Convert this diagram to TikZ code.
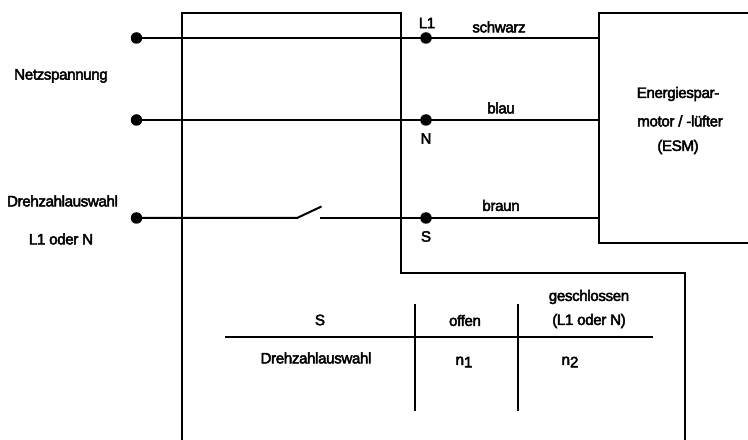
\documentclass[tikz,border=0pt]{standalone}
\usepackage{fontspec}
\setmainfont{Liberation Sans}[LetterSpace=-2.5]
\newcommand{\heavy}{\special{pdf:code q 2 Tr 0.45 w}}
\newcommand{\heavyoff}{\special{pdf:code Q}}
\begin{document}
\begin{tikzpicture}[x=1bp,y=-1bp,
  wire/.style={line width=2bp,black},
  frame/.style={line width=2bp,black},
  dot/.style={circle,fill=black,inner sep=0pt,minimum size=11.5bp},
  lbl/.style={inner sep=0pt,font=\fontsize{15.2}{16}\selectfont,align=center,text=black}]
\useasboundingbox (0,0) rectangle (748,440);
\draw[frame] (182,440) -- (182,13) -- (401,13) -- (401,273) -- (685,273) -- (685,440);
\draw[frame] (748,13) -- (599,13) -- (599,243) -- (748,243);
\coordinate (mL) at (599,38);
\coordinate (mN) at (599,120);
\coordinate (mS) at (599,218);
\coordinate (swA) at (297,218);
\coordinate (swB) at (321.5,206.5);
\coordinate (swC) at (320,218);
\node[dot] (a1) at (136.5,38) {};
\node[dot] (a2) at (136.5,120) {};
\node[dot] (a3) at (136.5,218) {};
\node[dot] (b1) at (426,38) {};
\node[dot] (b2) at (426,120) {};
\node[dot] (b3) at (426,218) {};
\draw[wire] (a1.center) -- (b1.center) -- (mL);
\draw[wire] (a2.center) -- (b2.center) -- (mN);
\draw[wire] (a3.center) -- (swA) -- (swB);
\draw[wire] (swC) -- (b3.center) -- (mS);
\node[lbl] (t1) at (61,76) {\heavy Netzspannung\heavyoff};
\node[lbl] (t2) at (62.5,201) {\heavy Drehzahlauswahl\heavyoff};
\node[lbl] (t3) at (61,239) {\heavy L1 oder N\heavyoff};
\node[lbl] (t4) at (427,23) {\heavy L1\heavyoff};
\node[lbl] (t5) at (426,138.5) {\heavy N\heavyoff};
\node[lbl] (t6) at (426,236.5) {\heavy S\heavyoff};
\node[lbl] (t7) at (499,27) {\heavy schwarz\heavyoff};
\node[lbl] (t8) at (501,108) {\heavy blau\heavyoff};
\node[lbl] (t9) at (501,205.5) {\heavy braun\heavyoff};
\node[lbl] (e1) at (678,94) {\heavy Energiespar-\heavyoff};
\node[lbl] (e2) at (680,121) {\heavy motor / -lüfter\heavyoff};
\node[lbl] (e3) at (678,147) {\heavy (ESM)\heavyoff};
\draw[wire] (225,337) -- (653,337);
\draw[wire] (415,304) -- (415,411);
\draw[wire] (518,304) -- (518,411);
\node[lbl] (h1) at (320,320) {\heavy S\heavyoff};
\node[lbl] (h2) at (465,320.5) {\heavy offen\heavyoff};
\node[lbl] (h3) at (589,297) {\heavy geschlossen\heavyoff};
\node[lbl] (h4) at (589,321) {\heavy (L1 oder N)\heavyoff};
\node[lbl] (r1) at (316,358) {\heavy Drehzahlauswahl\heavyoff};
\node[lbl] (r2) at (464,362) {\heavy n\raisebox{-2.5pt}{1}\heavyoff};
\node[lbl] (r3) at (570,362) {\heavy n\raisebox{-2.5pt}{2}\heavyoff};
\end{tikzpicture}
\end{document}
